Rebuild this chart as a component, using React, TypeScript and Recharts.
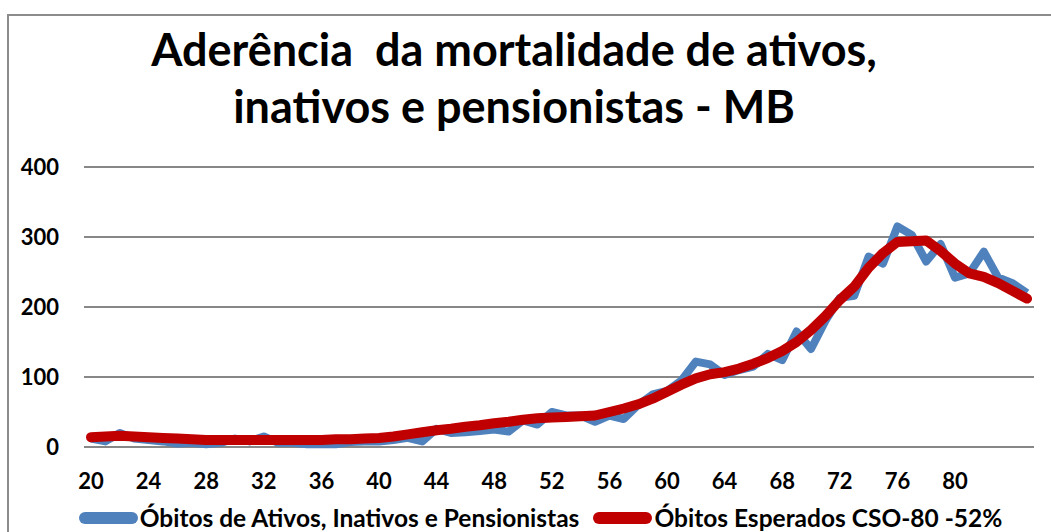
import { LineChart, Line, XAxis, YAxis, CartesianGrid } from "recharts";

const ages = [
  20, 21, 22, 23, 24, 25, 26, 27, 28, 29, 30, 31, 32, 33, 34, 35, 36, 37, 38, 39, 40, 41, 42,
  43, 44, 45, 46, 47, 48, 49, 50, 51, 52, 53, 54, 55, 56, 57, 58, 59, 60, 61, 62, 63, 64, 65,
  66, 67, 68, 69, 70, 71, 72, 73, 74, 75, 76, 77, 78, 79, 80, 81, 82, 83, 84, 85,
];

// observed deaths
const obitos = [
  12, 8, 20, 12, 10, 8, 5, 6, 4, 6, 12, 8, 15, 6, 6, 4, 4, 4, 7, 8, 8, 10, 13,
  8, 26, 20, 21, 23, 25, 22, 38, 32, 50, 45, 45, 36, 45, 40, 60, 75, 80, 95, 122, 118, 103, 110,
  115, 133, 124, 165, 140, 180, 213, 216, 272, 262, 315, 303, 265, 290, 242, 248, 279, 242, 234, 220,
];

// expected deaths CSO-80 -52%
const esperados = [
  14, 15, 16, 15, 14, 13, 12, 11, 10, 10, 10, 10, 10, 10, 10, 10, 10, 11, 11, 12, 13, 15, 18,
  21, 24, 26, 29, 31, 34, 36, 39, 41, 42, 43, 44, 45, 50, 55, 61, 69, 79, 89, 98, 104, 107, 112,
  119, 127, 137, 150, 167, 187, 210, 229, 256, 277, 293, 294, 295, 280, 262, 248, 243, 234, 223, 212,
];

const xTicks = [20, 24, 28, 32, 36, 40, 44, 48, 52, 56, 60, 64, 68, 72, 76, 80];
const yTicks = [0, 100, 200, 300, 400];

const seriesNames = ["Óbitos de Ativos, Inativos e Pensionistas", "Óbitos Esperados CSO-80 -52%"];
const seriesColors = ["#4F81BD", "#C00000"];

const data = ages.map((age, i) => ({ age, obitos: obitos[i], esperados: esperados[i] }));

const FONT = "Lato, 'Open Sans', sans-serif";
const tickStyle = { fill: "#000", fontSize: 22, fontWeight: 700, fontFamily: FONT };

export default function App() {
  return (
    <div style={{ position: "absolute", left: 0, top: 0, width: 1051, height: 532, background: "#fff", overflow: "hidden" }}>
      <div style={{ position: "absolute", left: 7, top: 14, width: 1100, height: 600, border: "2px solid #8c8c8c" }} />
      <div
        style={{
          position: "absolute",
          left: 0,
          top: 21,
          width: 1028,
          textAlign: "center",
          fontFamily: FONT,
          fontWeight: 700,
          fontSize: 45,
          lineHeight: "57px",
          color: "#000",
        }}
      >
        Aderência&nbsp; da mortalidade de ativos,
        <br />
        inativos e pensionistas - MB
      </div>
      <div style={{ position: "absolute", left: 0, top: 0 }}>
        <LineChart width={1051} height={532} data={data} margin={{ top: 167, right: 17, bottom: 55, left: 14 }}>
          <CartesianGrid vertical={false} stroke="#878787" strokeWidth={2} />
          <XAxis
            dataKey="age"
            height={30}
            ticks={xTicks}
            interval={0}
            padding={{ left: 7, right: 7 }}
            axisLine={false}
            tickLine={false}
            tickSize={0}
            tickMargin={26}
            tick={tickStyle}
          />
          <YAxis
            width={70}
            domain={[0, 400]}
            ticks={yTicks}
            axisLine={false}
            tickLine={false}
            tickSize={0}
            tickMargin={25}
            tick={tickStyle}
          />
          <Line
            dataKey="obitos"
            stroke={seriesColors[0]}
            strokeWidth={8}
            dot={false}
            strokeLinejoin="round"
            isAnimationActive={false}
          />
          <Line
            dataKey="esperados"
            stroke={seriesColors[1]}
            strokeWidth={10}
            dot={false}
            strokeLinecap="round"
            strokeLinejoin="round"
            isAnimationActive={false}
          />
        </LineChart>
      </div>
      <div
        style={{
          position: "absolute",
          left: 0,
          top: 505,
          width: 1051,
          display: "flex",
          justifyContent: "center",
          paddingLeft: 30,
          boxSizing: "border-box",
          gap: 14,
          fontFamily: FONT,
          fontWeight: 700,
          fontSize: 24.5,
          lineHeight: "26px",
        }}
      >
        {seriesNames.map((name, i) => (
          <div key={name} style={{ display: "flex", alignItems: "center" }}>
            <span
              style={{ display: "inline-block", width: 59, height: 12, borderRadius: 6, background: seriesColors[i], marginRight: 2 }}
            />
            <span>{name}</span>
          </div>
        ))}
      </div>
    </div>
  );
}
